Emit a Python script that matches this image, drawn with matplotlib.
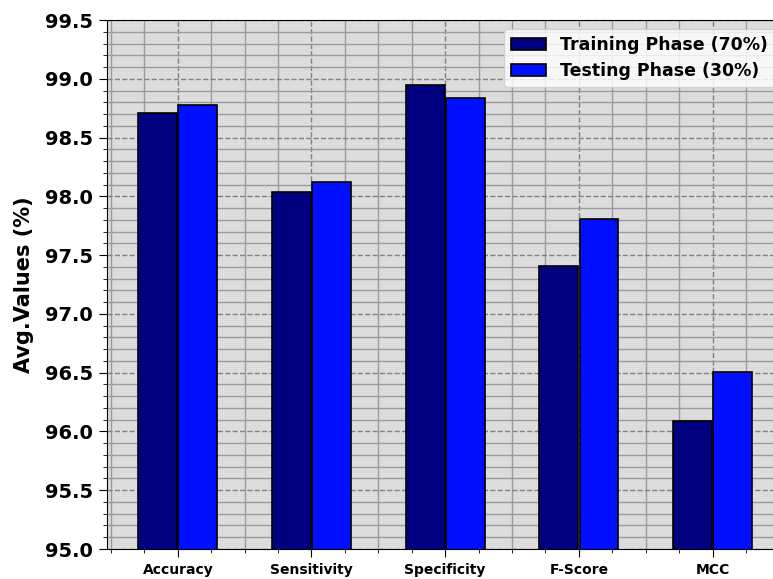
import numpy as np
import matplotlib.pyplot as plt
from matplotlib.ticker import MultipleLocator

metrics = ["Accuracy", "Sensitivity", "Specificity", "F-Score", "MCC"]
train_vals = [98.71, 98.04, 98.95, 97.41, 96.09]
test_vals = [98.78, 98.12, 98.84, 97.81, 96.51]

x = np.arange(len(metrics))
w = 0.29

fig = plt.figure(figsize=(7.73, 5.79), dpi=100)
ax = fig.add_axes([0.1384, 0.0518, 0.875, 0.9136])
ax.set_facecolor("#dcdcdc")

ax.bar(x - 0.15, train_vals, w, color="#000080", edgecolor="black", linewidth=1.2,
       label="Training Phase (70%)", zorder=3)
ax.bar(x + 0.15, test_vals, w, color="#0010ff", edgecolor="black", linewidth=1.2,
       label="Testing Phase (30%)", zorder=3)

ax.set_ylim(95.0, 99.5)
ax.set_xlim(-0.53, 4.53)
ax.yaxis.set_major_locator(MultipleLocator(0.5))
ax.yaxis.set_minor_locator(MultipleLocator(0.1))
ax.xaxis.set_minor_locator(MultipleLocator(0.25))
ax.set_xticks(x)
ax.set_xticklabels(metrics, fontsize=10, fontweight="bold")
for lbl in ax.get_yticklabels():
    lbl.set_fontsize(14)
    lbl.set_fontweight("bold")
ax.yaxis.set_major_formatter(plt.FormatStrFormatter("%.1f"))
ax.tick_params(which="major", length=5.5, pad=4.5)
ax.tick_params(which="minor", length=3)

ax.grid(which="major", color="#808080", linestyle="--", linewidth=1.0, zorder=0)
ax.grid(which="minor", color="#9a9a9a", linestyle="-", linewidth=1.0, zorder=0)
ax.set_axisbelow(True)

ax.set_ylabel("Avg.Values (%)", fontsize=15, fontweight="bold", labelpad=8)
ax.legend(loc="upper right", prop={"weight": "bold", "size": 12.5})

fig.savefig("out.png", dpi=100)
